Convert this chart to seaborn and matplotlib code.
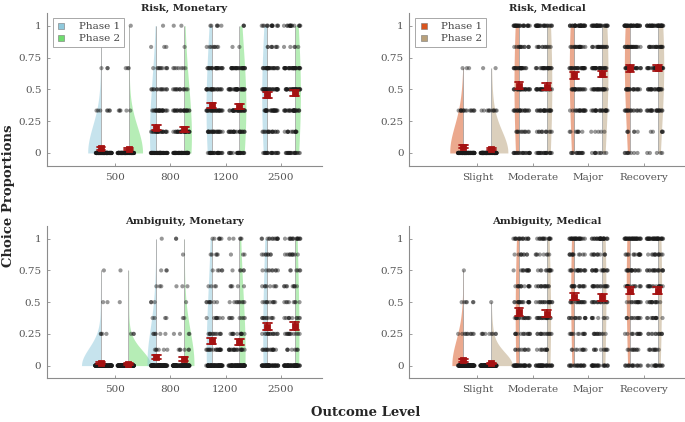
import numpy as np
import pandas as pd
import matplotlib
matplotlib.use("Agg")
import matplotlib.pyplot as plt
import seaborn as sns
from matplotlib.lines import Line2D

# ---------------- data (participant counts at each choice-proportion level) -------------
risk_levels = [0, 1/6, 1/3, 1/2, 2/3, 5/6, 1]
amb_levels = [0, 1/8, 1/4, 3/8, 1/2, 5/8, 3/4, 7/8, 1]
monetary_labels = ["500", "800", "1200", "2500"]
medical_labels = ["Slight", "Moderate", "Major", "Recovery"]
phases = ["Phase 1", "Phase 2"]

risk_monetary_p1 = [[139, 0, 7, 0, 3, 0, 1], [72, 24, 26, 14, 10, 3, 1],
                    [31, 25, 30, 25, 25, 8, 6], [22, 18, 28, 31, 28, 8, 15]]
risk_monetary_p2 = [[141, 0, 5, 0, 3, 0, 1], [71, 30, 25, 14, 7, 1, 2],
                    [28, 25, 30, 32, 30, 2, 3], [21, 14, 28, 32, 34, 5, 16]]
risk_medical_p1 = [[131, 0, 16, 0, 3, 0, 0], [23, 12, 22, 25, 25, 14, 29],
                   [15, 8, 20, 22, 28, 20, 37], [9, 6, 18, 22, 28, 24, 43]]
risk_medical_p2 = [[137, 0, 11, 0, 2, 0, 0], [22, 12, 24, 26, 26, 12, 28],
                   [10, 5, 24, 26, 30, 20, 35], [5, 6, 22, 25, 28, 22, 42]]
amb_monetary_p1 = [[143, 0, 4, 0, 2, 0, 1, 0, 0], [124, 6, 6, 4, 3, 3, 3, 0, 1],
                   [82, 20, 12, 8, 8, 4, 5, 5, 6], [62, 16, 14, 10, 10, 8, 9, 8, 13]]
amb_monetary_p2 = [[145, 0, 3, 0, 1, 0, 1, 0, 0], [131, 6, 4, 2, 1, 3, 0, 1, 2],
                   [83, 20, 12, 8, 9, 5, 5, 3, 5], [71, 8, 12, 10, 8, 9, 6, 10, 16]]
amb_medical_p1 = [[133, 0, 10, 0, 6, 0, 1, 0, 0], [39, 10, 14, 16, 18, 14, 12, 9, 18],
                  [22, 10, 12, 14, 16, 16, 18, 12, 30], [17, 10, 12, 12, 14, 16, 18, 14, 37]]
amb_medical_p2 = [[140, 0, 9, 0, 1, 0, 0, 0, 0], [40, 10, 14, 18, 18, 14, 12, 8, 16],
                  [26, 10, 12, 8, 16, 18, 18, 12, 30], [17, 10, 12, 12, 14, 16, 18, 13, 38]]

monetary_colors = ["#8fc9dc", "#6fdc6f"]
medical_colors = ["#d9541e", "#b8a07a"]

panels = [
    ("Risk, Monetary", risk_levels, monetary_labels, risk_monetary_p1, risk_monetary_p2, monetary_colors, 1.50, True),
    ("Risk, Medical", risk_levels, medical_labels, risk_medical_p1, risk_medical_p2, medical_colors, 1.60, True),
    ("Ambiguity, Monetary", amb_levels, monetary_labels, amb_monetary_p1, amb_monetary_p2, monetary_colors, 1.80, False),
    ("Ambiguity, Medical", amb_levels, medical_labels, amb_medical_p1, amb_medical_p2, medical_colors, 1.76, False),
]

W, H = 685, 422
rects_px = [(47, 13, 275, 152.7), (409.3, 13, 275.7, 152.7),
            (46.7, 226, 275.3, 152.3), (409.3, 226, 275.7, 152.3)]

sns.set_style("ticks")
plt.rcParams["font.family"] = ["DejaVu Serif"]

fig = plt.figure(figsize=(W / 100, H / 100), dpi=100)
np.random.seed(3)

for (title, levels, labels, c1, c2, cols, vw, show_leg), (lx, ty, pw, ph) in zip(panels, rects_px):
    rows = []
    for ph_name, counts in zip(phases, [c1, c2]):
        for lab, cnt in zip(labels, counts):
            vals = np.repeat(levels, cnt)
            rows.append(pd.DataFrame({"outcome": lab, "phase": ph_name, "value": vals}))
    df = pd.concat(rows, ignore_index=True)

    ax = fig.add_axes([lx / W, 1 - (ty + ph) / H, pw / W, ph / H])
    pal = dict(zip(phases, cols))
    sns.violinplot(data=df, x="outcome", y="value", hue="phase", order=labels,
                   hue_order=phases, split=True, width=vw, gap=1.0 / vw,
                   inner=None, cut=0, bw_method=1.5, density_norm="area",
                   common_norm=True, palette=pal, saturation=1, linewidth=0,
                   alpha=0.5, legend=False, ax=ax)
    # whisker lines at the flat side of each half violin
    for i, lab in enumerate(labels):
        for j, ph_name in enumerate(phases):
            v = df.loc[(df.outcome == lab) & (df.phase == ph_name), "value"]
            ax.vlines(i + (-0.25 if j == 0 else 0.25), v.min(), v.max(),
                      color="#a8a8a8", lw=0.6, zorder=1.5)
    sns.stripplot(data=df, x="outcome", y="value", hue="phase", order=labels,
                  hue_order=phases, dodge=True, jitter=0.3, size=3.0,
                  palette={p: "#1a1a1a" for p in phases}, alpha=0.45,
                  linewidth=0, legend=False, ax=ax, zorder=3)
    sns.pointplot(data=df, x="outcome", y="value", hue="phase", order=labels,
                  hue_order=phases, dodge=0.5, errorbar="se", markers="s",
                  markersize=3.4, linestyle="none", capsize=0.16,
                  err_kws={"linewidth": 1.3}, palette={p: "#a51212" for p in phases},
                  legend=False, ax=ax)
    for coll in ax.lines:
        coll.set_zorder(4)

    ax.set_xlim(-1.225, 3.74)
    ax.set_ylim(-0.1, 1.1)
    ax.set_yticks([0, 0.25, 0.5, 0.75, 1])
    ax.set_yticklabels(["0", "0.25", "0.5", "0.75", "1"])
    ax.set_xlabel("")
    ax.set_ylabel("")
    sns.despine(ax=ax)
    for s in ["left", "bottom"]:
        ax.spines[s].set_color("#8c8c8c")
        ax.spines[s].set_linewidth(0.8)
    ax.tick_params(axis="both", direction="in", length=2.5, width=0.6,
                   color="#8c8c8c", labelsize=7.5, labelcolor="#555555")
    ax.tick_params(axis="x", pad=5)
    ax.tick_params(axis="y", pad=4)
    ax.set_title(title, fontsize=7.3, fontweight="bold", pad=1.8)

    if show_leg:
        handles = [Line2D([], [], marker="s", linestyle="none", markersize=4.5,
                          markerfacecolor=c, markeredgecolor="#777777",
                          markeredgewidth=0.4) for c in cols]
        leg = ax.legend(handles, phases, loc="upper left",
                        bbox_to_anchor=(0.02, 0.965), fontsize=7.5,
                        frameon=True, fancybox=False, framealpha=1,
                        edgecolor="#9a9a9a", borderpad=0.35, labelspacing=0.25,
                        handlelength=1.0, handletextpad=1.2, borderaxespad=0)
        leg.get_frame().set_linewidth(0.6)
        for t in leg.get_texts():
            t.set_color("#444444")

fig.text(0.012, 1 - 196 / H, "Choice Proportions", rotation=90, va="center",
         ha="center", fontsize=9.5, fontweight="bold")
fig.text(366 / W, 1 - 412 / H, "Outcome Level", ha="center", va="center",
         fontsize=9.5, fontweight="bold")

fig.savefig("out.png", dpi=100)
